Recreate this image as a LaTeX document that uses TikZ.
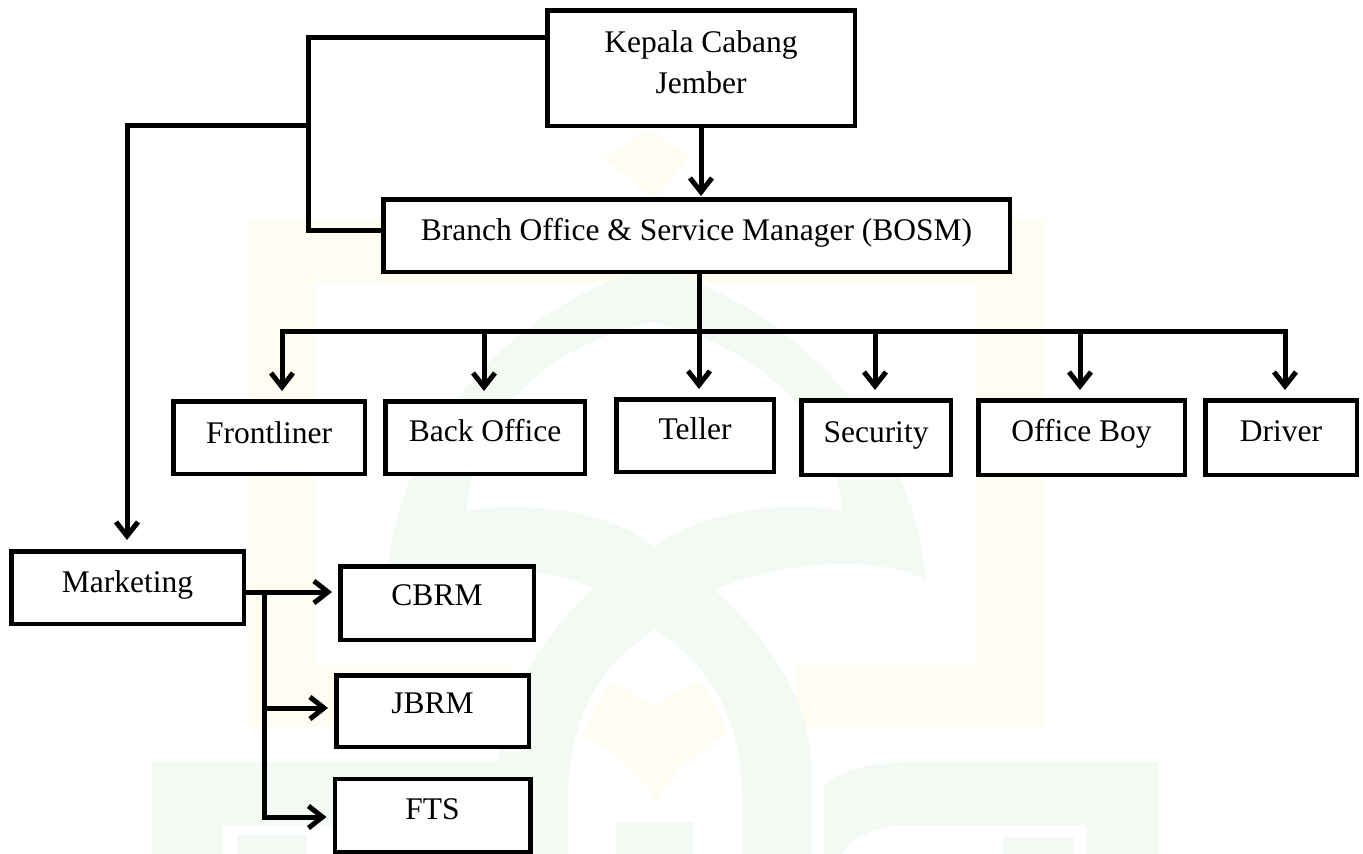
\documentclass[tikz,border=0pt]{standalone}
\usepackage{fontspec}
\setmainfont{Liberation Serif}
\usetikzlibrary{arrows.meta}
\definecolor{wmg}{RGB}{243,249,243}
\definecolor{wmy}{RGB}{255,253,241}
\tikzset{
  box/.style={draw=black, fill=white, line width=4.5pt, inner sep=0pt,
    text height=22pt, text depth=7pt,
    font=\fontsize{31.5}{40}\selectfont},
  conn/.style={draw=black, line width=5pt},
  arr/.style={conn, -{Straight Barb[length=14pt,width=22pt]}},
}
\begin{document}
\begin{tikzpicture}[x=1pt,y=-1pt]
\clip (0,0) rectangle (1363,854);
\fill[white] (0,0) rectangle (1363,854);
% ---- faint watermark ----
\fill[wmy] (249,219) rectangle (1044,283);
\fill[wmy] (249,219) rectangle (315,727);
\fill[wmy] (976,219) rectangle (1044,727);
\fill[wmy] (249,663) rectangle (513,727);
\fill[wmy] (797,663) rectangle (1044,727);
\fill[wmy] (603,158) -- (647,131) -- (691,155) -- (655,198) -- cycle;
\fill[wmg, even odd rule]
 (387,580) .. controls (395,430) and (520,300) .. (652,268)
 .. controls (784,300) and (915,430) .. (926,580)
 .. controls (880,555) and (780,560) .. (714,590)
 .. controls (770,640) and (810,700) .. (812,770) -- (812,854) -- (742,854) -- (742,790)
 .. controls (738,700) and (700,660) .. (655,629)
 .. controls (610,660) and (572,700) .. (568,790)
 -- (568,854) -- (498,854) -- (498,770)
 .. controls (500,700) and (540,640) .. (593,588)
 .. controls (540,565) and (450,560) .. (387,580) -- cycle
 (842,511) .. controls (835,420) and (760,345) .. (652,322)
 .. controls (545,345) and (470,420) .. (467,511)
 .. controls (520,500) and (610,510) .. (655,547)
 .. controls (700,510) and (790,500) .. (842,511) -- cycle;
\fill[wmy] (611,682) .. controls (630,690) and (645,700) .. (655,707)
 .. controls (665,700) and (680,690) .. (698,682)
 .. controls (715,700) and (725,720) .. (726,735)
 .. controls (700,750) and (670,770) .. (655,803)
 .. controls (640,770) and (610,750) .. (583,735)
 .. controls (590,715) and (600,695) .. (611,682) -- cycle;
\fill[wmg] (616,822) rectangle (693,854);
\fill[wmg] (824,854) -- (824,785) .. controls (850,765) and (880,762) .. (918,762)
 -- (1159,762) -- (1159,854) -- (1087,854) -- (1086,825) -- (898,825)
 .. controls (870,828) and (850,840) .. (842,854) -- cycle;
\fill[wmg] (1003,837) rectangle (1074,854);
\fill[wmg, even odd rule] (152,762) rectangle (500,854) (223,826) rectangle (340,854);
\fill[wmg] (237,835) rectangle (307,854);
% ---- boxes ----
\node[box, minimum width=307.5pt, minimum height=115.5pt] (kep) at (701,68)
  {\raisebox{-18pt}{\begin{tabular}[b]{@{}c@{}}Kepala Cabang\\[1.5pt]Jember\end{tabular}}};
\node[box, minimum width=626.5pt, minimum height=72.5pt] (bosm) at (696.5,235.5)
  {\raisebox{3pt}{Branch Office \& Service Manager (BOSM)}};
\node[box, minimum width=191.5pt, minimum height=72.5pt] (front) at (269,437.5)
  {\raisebox{2pt}{Frontliner}};
\node[box, minimum width=199.5pt, minimum height=72.5pt] (back) at (485,437.5)
  {\raisebox{3.5pt}{Back Office}};
\node[box, minimum width=157.5pt, minimum height=72.5pt] (teller) at (695,435.5)
  {\raisebox{4pt}{Teller}};
\node[box, minimum width=149.5pt, minimum height=74.5pt] (sec) at (876,437.5)
  {\raisebox{3pt}{Security}};
\node[box, minimum width=206.5pt, minimum height=74.5pt] (ob) at (1081.5,437.5)
  {\raisebox{3.5pt}{Office Boy}};
\node[box, minimum width=151.5pt, minimum height=74.5pt] (drv) at (1281,437.5)
  {\raisebox{3.5pt}{Driver}};
\node[box, minimum width=232.5pt, minimum height=72.5pt] (mark) at (127.5,587.5)
  {\raisebox{3pt}{Marketing}};
\node[box, minimum width=193.5pt, minimum height=73.5pt] (cbrm) at (437,603)
  {\raisebox{5pt}{CBRM}};
\node[box, minimum width=192.5pt, minimum height=71.5pt] (jbrm) at (432.5,711)
  {\raisebox{5pt}{JBRM}};
\node[box, minimum width=195.5pt, minimum height=73pt] (fts) at (432.5,815.5)
  {\raisebox{3.7pt}{FTS}};
% ---- connector points ----
\coordinate (ka) at (308,37);
\coordinate (kb) at (308,230);
\coordinate (kc) at (308,125);
\coordinate (mk) at (127,125);
\coordinate (bus) at (699,331);
\coordinate (b1) at (282,331);
\coordinate (b2) at (484,331);
\coordinate (b4) at (875,331);
\coordinate (b5) at (1080,331);
\coordinate (b6) at (1285,331);
\coordinate (m0) at (264,592);
\coordinate (m1) at (264,708);
\coordinate (m2) at (264,817);
% ---- connectors ----
\draw[conn] ([yshift=31pt]kep.west) -- (ka) -- (kb) -- (bosm.west |- kb);
\draw[arr, shorten >=9pt] (kc) -- (mk) -- (mk |- mark.north);
\draw[arr, shorten >=1pt] (kep.south) -- (kep.south |- bosm.north);
\draw[arr, shorten >=8pt] (bosm.south -| bus) -- (bus |- teller.north);
\draw[arr, shorten >=8pt] (bus) -- (b1) -- (b1 |- front.north);
\draw[arr, shorten >=8pt] (bus) -- (b6) -- (b6 |- drv.north);
\draw[arr, shorten >=8pt] (b2) -- (b2 |- back.north);
\draw[arr, shorten >=8pt] (b4) -- (b4 |- sec.north);
\draw[arr, shorten >=8pt] (b5) -- (b5 |- ob.north);
\draw[arr, shorten >=6pt] ([yshift=-4.5pt]mark.east) -- (cbrm.west |- m0);
\draw[arr, shorten >=6pt] (m0) -- (m2) -- (fts.west |- m2);
\draw[arr, shorten >=6pt] (m1) -- (jbrm.west |- m1);
\end{tikzpicture}
\end{document}
